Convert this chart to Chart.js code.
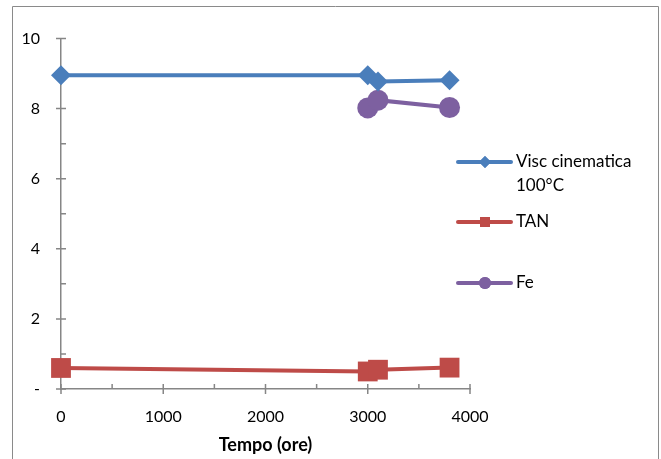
<!DOCTYPE html>
<html>
<head>
<meta charset="utf-8">
<script src="https://cdn.jsdelivr.net/npm/chart.js@4/dist/chart.umd.min.js"></script>
<style>
  html, body { margin: 0; padding: 0; background: #fff; }
  #wrap { width: 661px; height: 459px; }
</style>
</head>
<body>
<div id="wrap"><canvas id="chartCanvas" width="661" height="459"></canvas></div>
<script>
// data
const hoursVisc = [0, 3000, 3100, 3800];
const visc = [8.95, 8.95, 8.77, 8.81];
const hoursTan = [0, 3000, 3100, 3800];
const tan = [0.6, 0.5, 0.55, 0.61];
const hoursFe = [3000, 3100, 3800];
const fe = [8.02, 8.24, 8.03];

const labels = [["Visc cinematica", "100°C"], ["TAN"], ["Fe"]];
const colors = ["#4a7ebb", "#be4b48", "#7d60a0"];
const axisGray = "#868686";
const font = "Lato, 'DejaVu Sans', sans-serif";

const toPoints = (xs, ys) => xs.map((x, i) => ({ x, y: ys[i] }));

// frame around the whole chart (open at the bottom, like the crop)
const framePlugin = {
  id: "frame",
  beforeDraw(chart) {
    const c = chart.ctx;
    c.save();
    c.strokeStyle = "#8a8a8a";
    c.lineWidth = 1;
    c.beginPath();
    c.moveTo(12.5, 470);
    c.lineTo(12.5, 6.5);
    c.lineTo(658.5, 6.5);
    c.lineTo(658.5, 470);
    c.stroke();
    c.restore();
  }
};

// excel style tick marks: major ones cross the axis, minor ones sit inside
const tickPlugin = {
  id: "excelTicks",
  beforeDatasetsDraw(chart) {
    const c = chart.ctx;
    const xs = chart.scales.x, ys = chart.scales.y;
    const area = chart.chartArea;
    c.save();
    c.strokeStyle = axisGray;
    c.lineWidth = 1.5;
    c.beginPath();
    ys.ticks.forEach((t) => {
      const py = ys.getPixelForValue(t.value);
      const major = t.value % 2 === 0;
      c.moveTo(major ? area.left - 5 : area.left, py);
      c.lineTo(area.left + 5, py);
    });
    xs.ticks.forEach((t) => {
      const px = xs.getPixelForValue(t.value);
      const major = t.value % 1000 === 0;
      c.moveTo(px, area.bottom - 5);
      c.lineTo(px, major ? area.bottom + 5 : area.bottom);
    });
    c.stroke();
    c.restore();
  }
};

// legend on the right drawn by hand, to keep the excel spacing
const legendPlugin = {
  id: "sideLegend",
  afterDraw(chart) {
    const c = chart.ctx;
    const rows = [162, 222, 283];
    const sizes = [6, 7, 6];
    chart.data.datasets.forEach((ds, i) => {
      const y = rows[i];
      c.save();
      c.strokeStyle = ds.borderColor;
      c.lineWidth = 4;
      c.lineCap = "round";
      c.beginPath();
      c.moveTo(458, y);
      c.lineTo(511, y);
      c.stroke();
      c.fillStyle = ds.borderColor;
      c.beginPath();
      Chart.helpers.drawPoint(c, { pointStyle: ds.pointStyle, radius: sizes[i], rotation: 0, borderWidth: 0 }, 485, y);
      c.fill();
      c.fillStyle = "#000";
      c.font = "17px " + font;
      c.textBaseline = "middle";
      labels[i].forEach((line, k) => c.fillText(line, 516, y + k * 24));
      c.restore();
    });
  }
};

const makeSet = (label, data, color, style, radius) => ({
  label,
  data,
  borderColor: color,
  backgroundColor: color,
  borderWidth: 4,
  pointStyle: style,
  pointRadius: radius,
  pointHoverRadius: radius,
  pointBorderWidth: 0,
  tension: 0,
  clip: false
});

new Chart(document.getElementById("chartCanvas").getContext("2d"), {
  type: "line",
  data: {
    datasets: [
      makeSet("Visc cinematica 100°C", toPoints(hoursVisc, visc), colors[0], "rectRot", 10),
      makeSet("TAN", toPoints(hoursTan, tan), colors[1], "rect", 14),
      makeSet("Fe", toPoints(hoursFe, fe), colors[2], "circle", 10.5)
    ]
  },
  options: {
    responsive: false,
    animation: false,
    layout: { padding: { left: 0, top: 38.5, right: 191, bottom: 0 } },
    plugins: {
      legend: { display: false },
      tooltip: { enabled: false }
    },
    scales: {
      x: {
        type: "linear",
        min: 0,
        max: 4000,
        grid: { display: false },
        border: { color: axisGray, width: 1.5 },
        ticks: {
          stepSize: 500,
          padding: 10,
          color: "#000",
          font: { family: font, size: 16 },
          callback: (v) => (v % 1000 === 0 ? v : "")
        },
        title: {
          display: true,
          text: "Tempo (ore)",
          color: "#000",
          font: { family: font, size: 18, weight: "bold" },
          padding: { top: 4, bottom: 3 }
        },
        afterFit: (s) => { s.height = 70; }
      },
      y: {
        min: 0,
        max: 10,
        grid: { display: false },
        border: { color: axisGray, width: 1.5 },
        ticks: {
          stepSize: 1,
          padding: 13,
          color: "#000",
          font: { family: font, size: 16 },
          callback: (v) => (v % 2 ? "" : v === 0 ? "-" : v)
        },
        afterFit: (s) => { s.width = 61; }
      }
    }
  },
  plugins: [framePlugin, tickPlugin, legendPlugin]
});
</script>
</body>
</html>
